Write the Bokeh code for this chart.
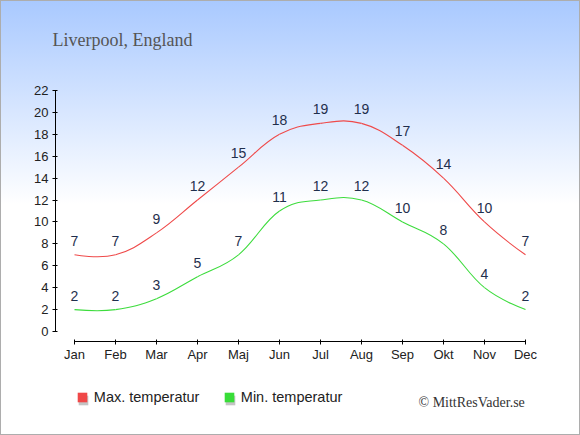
from bokeh.plotting import figure
from bokeh.models import (FixedTicker, Label, Legend, LegendItem, InlineStyleSheet, Range1d)
from bokeh.core.properties import value
from bokeh.embed import file_html
from bokeh.resources import INLINE

# ---------------- data ----------------
months = ["Jan", "Feb", "Mar", "Apr", "Maj", "Jun", "Jul", "Aug", "Sep", "Okt", "Nov", "Dec"]
max_temp = [7, 7, 9, 12, 15, 18, 19, 19, 17, 14, 10, 7]
min_temp = [2, 2, 3, 5, 7, 11, 12, 12, 10, 8, 4, 2]
y_ticks = list(range(0, 23, 2))
title_text = "Liverpool, England"
credit_text = "\u00a9 MittResVader.se"
series_names = ["Max. temperatur", "Min. temperatur"]
line_colors = ["#ef4a4a", "#3ddc3d"]
square_colors = ["#f04848", "#38dd38"]

# ---------------- layout ----------------
W, H = 580, 435
PX_Y = 241 / 22                # pixels per degree
PX_X = 41                      # pixels per month
X_JAN = 74                     # px of first month
Y_ZERO = 331                   # px (from top) of 0 degrees
x_start = -X_JAN / PX_X
y_start = -(H - Y_ZERO) / PX_Y

p = figure(width=W, height=H, output_backend="svg", toolbar_location=None,
           x_range=Range1d(x_start, x_start + W / PX_X),
           y_range=Range1d(y_start, y_start + H / PX_Y),
           min_border=0)
p.border_fill_alpha = 0
p.background_fill_alpha = 0
p.outline_line_color = None
p.grid.visible = False
p.stylesheets = [InlineStyleSheet(css="""
:host { position: relative; }
:host::before {
  content: ""; position: absolute; left: 0; top: 0; width: 100%; height: 100%;
  background: linear-gradient(to bottom, #a9c9ff 0%, #ffffff 47%, #ffffff 100%);
  border: 1px solid #adadad; box-sizing: border-box; z-index: -1;
}
""")]

# axes (drawn at fixed data locations inside the frame)
for ax in (p.xaxis[0], p.yaxis[0]):
    ax.axis_line_color = "black"
    ax.major_tick_line_color = "black"
    ax.major_tick_in = 2
    ax.major_tick_out = 3
    ax.minor_tick_line_color = None
    ax.major_label_text_font = "Liberation Sans"
    ax.major_label_text_font_size = "13px"
    ax.major_label_text_color = "#222222"
p.xaxis.ticker = FixedTicker(ticks=list(range(len(months))))
p.xaxis.major_label_overrides = {i: m for i, m in enumerate(months)}
p.xaxis.bounds = (0, len(months) - 1)
p.xaxis.major_label_standoff = 2
p.xaxis.fixed_location = -10 / PX_Y
p.yaxis.ticker = FixedTicker(ticks=y_ticks)
p.yaxis.bounds = (y_ticks[0], y_ticks[-1])
p.yaxis.major_label_standoff = 4
p.yaxis.fixed_location = -19 / PX_X


def spline(xs, ys, smoothing=1.5):
    n = len(xs)
    lc = [(x, y) for x, y in zip(xs, ys)]
    rc = list(lc)
    d = smoothing + 1
    for i in range(1, n - 1):
        px, py = xs[i], ys[i]
        lx = (smoothing * px + xs[i - 1]) / d
        ly = (smoothing * py + ys[i - 1]) / d
        rx = (smoothing * px + xs[i + 1]) / d
        ry = (smoothing * py + ys[i + 1]) / d
        corr = ((ry - ly) * (rx - px)) / (rx - lx) + py - ry
        lc[i] = (lx, ly + corr)
        rc[i] = (rx, ry + corr)
    return dict(x0=xs[:-1], y0=ys[:-1], x1=xs[1:], y1=ys[1:],
                cx0=[c[0] for c in rc[:-1]], cy0=[c[1] for c in rc[:-1]],
                cx1=[c[0] for c in lc[1:]], cy1=[c[1] for c in lc[1:]])


xs = list(range(len(months)))
sq = []
for vals, lcol, scol in zip((max_temp, min_temp), line_colors, square_colors):
    p.bezier(line_color=lcol, line_width=1.1, **spline(xs, vals))
    p.text(x=xs, y=vals, text=[str(v) for v in vals], text_align="center",
           text_baseline="alphabetic", y_offset=-14,
           text_font=value("Liberation Sans"), text_font_size="14px",
           text_color="#1f2f4d")
    # zero-area swatch renderer (invisible in the plot, used for the legend square)
    sq.append(p.quad(left=[xs[0]], right=[xs[0]], top=[vals[0]], bottom=[vals[0]],
                     fill_color=scol, line_color=None))
shadow = p.quad(left=[xs[0]], right=[xs[0]], top=[min_temp[0]], bottom=[min_temp[0]],
                fill_color="#c4c4c4", line_color=None)


def add_legend(renderer, label, lx, ly):
    lg = Legend(items=[LegendItem(label=label, renderers=[renderer])], location=(lx, ly),
                orientation="horizontal", padding=0, spacing=0, margin=0,
                border_line_color=None, background_fill_alpha=0,
                glyph_width=12, glyph_height=12, label_height=12, label_standoff=6,
                label_text_font="Liberation Sans", label_text_font_size="14.5px",
                label_text_color="#222222")
    p.add_layout(lg)


for lx in (75.8, 222.8):
    add_legend(shadow, " ", lx + 1, 28.8)
for r, name, lx in zip(sq, series_names, (75.8, 222.8)):
    add_legend(r, name, lx, 29.8)

p.add_layout(Label(x=52, y=H - 39, x_units="screen", y_units="screen",
                   text=title_text, text_font="Liberation Serif", text_font_size="18px",
                   text_color="#555555", text_baseline="alphabetic"))
p.add_layout(Label(x=418, y=H - 401.7, x_units="screen", y_units="screen",
                   text=credit_text, text_font="Liberation Serif", text_font_size="14px",
                   text_color="#333333", text_baseline="alphabetic"))

open("out.html", "w").write(file_html(p, INLINE))
